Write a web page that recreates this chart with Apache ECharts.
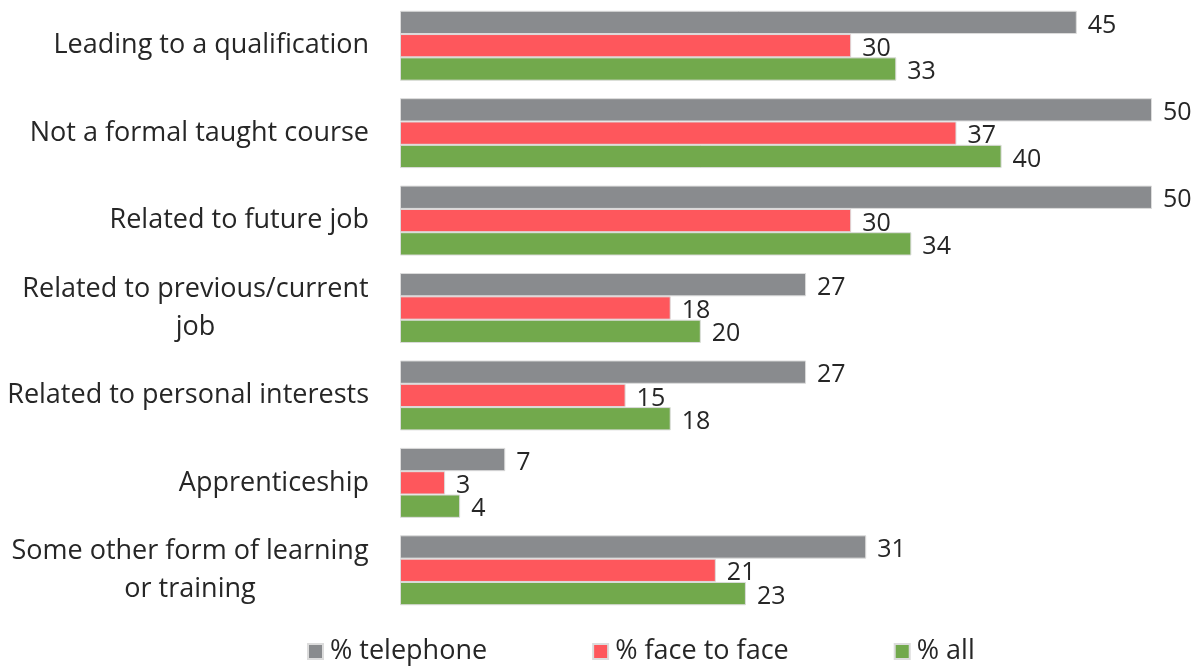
<!DOCTYPE html>
<html><head><meta charset="utf-8">
<script src="https://cdn.jsdelivr.net/npm/echarts@6/dist/echarts.min.js"></script>
<style>html,body{margin:0;padding:0;background:#fff}#c{width:1200px;height:666px}</style>
</head><body><div id="c"></div>
<script>
const categories = ["Leading to a qualification","Not a formal taught course","Related to future job","Related to previous/current\njob","Related to personal interests","Apprenticeship","Some other form of learning\nor training"];
const seriesNames = ["% telephone","% face to face","% all"];
const telephone = [45,50,50,27,27,7,31];
const faceToFace = [30,37,30,18,15,3,21];
const allResp = [33,40,34,20,18,4,23];
const colors = ["#898b8e","#fe575c","#72a94c"];

const FONT = "Open Sans";
const FS = 27;
const VFS = 25;
const LFS = 27;
const TXT = '#262626';
const cv = document.createElement('canvas').getContext('2d');
cv.font = FS + 'px "' + FONT + '"';
function w(t){ return Math.ceil(cv.measureText(t).width); }

const rich = {};
const labelFmt = {};
categories.forEach((c,i)=>{
  if (c.indexOf('\n')>=0){
    const lines = c.split('\n');
    const mw = Math.max.apply(null, lines.map(w));
    rich['r'+i] = {width: mw, align:'center', fontSize: FS, fontFamily: FONT, color:TXT, lineHeight: 38};
    labelFmt[c] = lines.map(l=>'{r'+i+'|'+l+'}').join('\n');
  } else labelFmt[c] = c;
});

const chart = echarts.init(document.getElementById('c'));
const data = [telephone, faceToFace, allResp];
chart.setOption({
  animation:false,
  grid:{left:400,right:48,top:2,bottom:52,containLabel:false},
  xAxis:{type:'value',min:0,max:50,show:false},
  yAxis:{type:'category',data:categories,inverse:true,
    axisLine:{show:false},axisTick:{show:false},
    axisLabel:{margin:31,fontSize:FS,fontFamily:FONT,color:TXT,align:'right',lineHeight:38,
      formatter:v=>labelFmt[v],rich:rich}},
  legend:{top:633,left:302,itemWidth:15,itemHeight:15,itemGap:105,icon:'rect',
    textStyle:{fontSize:LFS,fontFamily:FONT,color:TXT,padding:[0,0,0,2]},data:seriesNames},
  series: seriesNames.map((n,i)=>({
    name:n,type:'bar',data:data[i],barGap:'0%',barCategoryGap:'20%',
    itemStyle:{color:colors[i],borderColor:'#dcdcdc',borderWidth:1},
    label:{show:true,position:'right',distance:11,fontSize:VFS,fontFamily:FONT,color:TXT,offset:[0,3]}
  }))
});
</script></body></html>
